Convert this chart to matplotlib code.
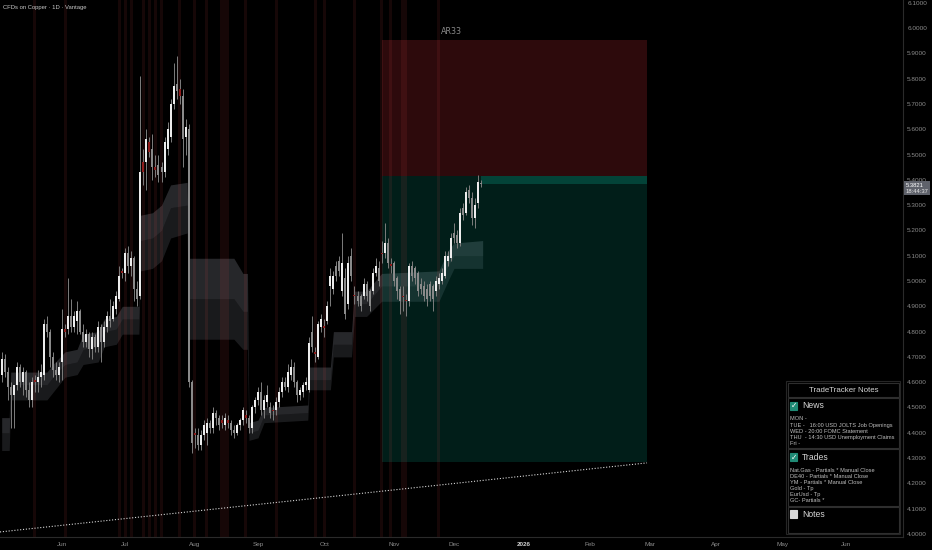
import matplotlib
matplotlib.use('Agg')
import matplotlib.pyplot as plt
import pandas as pd
from matplotlib.patches import Rectangle

# ---------------- data ----------------
start_date = '2025-05-05'
opens = [4.63, 4.69, 4.64, 4.58, 4.55, 4.59, 4.66, 4.60, 4.64, 4.57,
         4.53, 4.61, 4.60, 4.62, 4.63, 4.83, 4.80, 4.70, 4.65, 4.63,
         4.68, 4.81, 4.81, 4.86, 4.82, 4.84, 4.88, 4.80, 4.76, 4.79,
         4.73, 4.78, 4.74, 4.82, 4.76, 4.82, 4.86, 4.85, 4.89, 4.93,
         5.04, 5.03, 5.11, 5.06, 5.09, 4.97, 4.94, 5.47, 5.47, 5.55,
         5.52, 5.45, 5.46, 5.45, 5.43, 5.52, 5.57, 5.70, 5.78, 5.76,
         5.73, 5.57, 5.60, 4.60, 4.40, 4.39, 4.35, 4.39, 4.40, 4.44,
         4.42, 4.48, 4.46, 4.45, 4.43, 4.45, 4.44, 4.41, 4.40, 4.43,
         4.45, 4.47, 4.46, 4.42, 4.50, 4.53, 4.56, 4.49, 4.52, 4.50,
         4.49, 4.49, 4.52, 4.56, 4.60, 4.58, 4.63, 4.66, 4.60, 4.55,
         4.56, 4.59, 4.57, 4.80, 4.72, 4.70, 4.82, 4.82, 4.84, 4.98,
         4.97, 5.06, 5.08, 4.96, 5.01, 4.91, 5.10, 4.945, 4.94, 4.94,
         4.94, 4.99, 4.96, 4.96, 5.03, 5.05, 5.11, 5.11, 5.15, 5.065,
         5.07, 5.01, 4.97, 4.94, 4.925, 4.92, 5.06, 5.05, 5.03, 4.99,
         4.98, 4.97, 4.99, 4.98, 4.96, 4.99, 5.00, 5.02, 5.08, 5.09,
         5.19, 5.18, 5.15, 5.29, 5.27, 5.36, 5.33, 5.25, 5.31, 5.385]
highs = [4.72, 4.71, 4.66, 4.60, 4.59, 4.68, 4.67, 4.66, 4.65, 4.60,
         4.62, 4.63, 4.65, 4.67, 4.85, 4.86, 4.81, 4.72, 4.68, 4.68,
         4.89, 4.83, 5.01, 4.93, 4.88, 4.92, 4.89, 4.83, 4.81, 4.80,
         4.80, 4.79, 4.84, 4.83, 4.84, 4.88, 4.93, 4.92, 4.96, 5.06,
         5.05, 5.13, 5.14, 5.12, 5.10, 5.00, 5.81, 5.52, 5.60, 5.57,
         5.58, 5.50, 5.50, 5.47, 5.57, 5.63, 5.72, 5.86, 5.89, 5.80,
         5.76, 5.64, 5.62, 4.61, 4.42, 4.42, 4.41, 4.45, 4.46, 4.45,
         4.50, 4.49, 4.47, 4.47, 4.48, 4.47, 4.45, 4.43, 4.44, 4.46,
         4.50, 4.49, 4.47, 4.51, 4.54, 4.58, 4.60, 4.55, 4.59, 4.52,
         4.51, 4.54, 4.58, 4.62, 4.62, 4.67, 4.69, 4.68, 4.61, 4.58,
         4.60, 4.62, 4.78, 4.86, 4.74, 4.84, 4.87, 4.85, 4.92, 5.05,
         5.04, 5.08, 5.10, 5.19, 5.05, 5.10, 5.13, 4.98, 4.96, 4.95,
         5.01, 5.00, 4.97, 5.05, 5.09, 5.08, 5.16, 5.23, 5.17, 5.09,
         5.08, 5.02, 4.98, 4.98, 4.95, 5.07, 5.08, 5.06, 5.04, 5.01,
         5.00, 4.99, 5.00, 4.99, 5.02, 5.03, 5.05, 5.12, 5.12, 5.19,
         5.23, 5.20, 5.29, 5.31, 5.37, 5.38, 5.35, 5.33, 5.42, 5.40]
lows = [4.60, 4.62, 4.53, 4.42, 4.42, 4.57, 4.58, 4.55, 4.54, 4.50,
        4.50, 4.56, 4.56, 4.58, 4.61, 4.78, 4.66, 4.62, 4.61, 4.60,
        4.61, 4.78, 4.79, 4.80, 4.80, 4.79, 4.79, 4.74, 4.74, 4.70,
        4.69, 4.72, 4.72, 4.68, 4.74, 4.80, 4.82, 4.84, 4.87, 4.92,
        5.01, 5.00, 5.03, 5.02, 4.92, 4.90, 4.93, 5.38, 5.36, 5.49,
        5.40, 5.41, 5.39, 5.39, 5.41, 5.50, 5.55, 5.68, 5.72, 5.70,
        5.45, 5.50, 4.58, 4.32, 4.34, 4.33, 4.33, 4.37, 4.35, 4.40,
        4.40, 4.43, 4.41, 4.42, 4.41, 4.42, 4.39, 4.38, 4.39, 4.41,
        4.43, 4.44, 4.40, 4.40, 4.48, 4.51, 4.47, 4.46, 4.50, 4.46,
        4.45, 4.47, 4.50, 4.54, 4.57, 4.56, 4.61, 4.58, 4.52, 4.53,
        4.54, 4.57, 4.56, 4.72, 4.68, 4.69, 4.80, 4.78, 4.83, 4.90,
        4.95, 5.00, 5.02, 4.94, 4.85, 4.89, 5.00, 4.91, 4.90, 4.88,
        4.93, 4.92, 4.88, 4.95, 5.02, 4.98, 5.07, 5.09, 5.05, 5.03,
        4.98, 4.93, 4.87, 4.88, 4.86, 4.90, 5.00, 4.99, 4.94, 4.95,
        4.92, 4.90, 4.92, 4.88, 4.94, 4.97, 4.99, 5.01, 5.06, 5.08,
        5.15, 5.13, 5.14, 5.24, 5.26, 5.31, 5.22, 5.21, 5.29, 5.37]
closes = [4.69, 4.64, 4.58, 4.55, 4.59, 4.66, 4.60, 4.64, 4.57, 4.53,
          4.60, 4.60, 4.62, 4.64, 4.83, 4.80, 4.70, 4.65, 4.63, 4.66,
          4.81, 4.80, 4.86, 4.82, 4.86, 4.88, 4.80, 4.76, 4.79, 4.73,
          4.78, 4.74, 4.82, 4.76, 4.82, 4.86, 4.84, 4.90, 4.94, 5.02,
          5.03, 5.11, 5.06, 5.09, 4.97, 4.93, 5.43, 5.43, 5.56, 5.51,
          5.45, 5.44, 5.42, 5.43, 5.55, 5.60, 5.70, 5.77, 5.75, 5.73,
          5.56, 5.61, 4.60, 4.36, 4.39, 4.35, 4.39, 4.43, 4.44, 4.42,
          4.48, 4.46, 4.43, 4.44, 4.46, 4.44, 4.41, 4.40, 4.43, 4.45,
          4.49, 4.46, 4.42, 4.50, 4.53, 4.56, 4.49, 4.53, 4.55, 4.48,
          4.485, 4.52, 4.56, 4.60, 4.58, 4.64, 4.66, 4.60, 4.55, 4.57,
          4.59, 4.60, 4.755, 4.74, 4.71, 4.83, 4.85, 4.815, 4.90, 5.02,
          5.02, 5.02, 5.04, 5.07, 4.87, 5.07, 5.02, 4.94, 4.92, 4.90,
          4.99, 4.94, 4.90, 5.03, 5.06, 5.00, 5.105, 5.15, 5.07, 5.06,
          5.00, 4.96, 4.92, 4.935, 4.92, 5.06, 5.02, 5.01, 4.96, 4.97,
          4.94, 4.93, 4.94, 4.93, 5.00, 5.01, 5.03, 5.10, 5.10, 5.17,
          5.17, 5.15, 5.27, 5.26, 5.35, 5.33, 5.25, 5.30, 5.39, 5.382]
red_bars = [11, 21, 40, 47, 49, 51, 59, 64, 73, 75, 81, 90, 104, 107,
            117, 126, 129, 133, 134]
event_bars = [11, 21, 39, 41, 43, 47, 49, 51, 53, 59, 64, 68, 73, 74, 75,
              81, 91, 104, 107, 117, 126, 129, 133, 134, 145]

# indicator band (bar index, upper, middle, lower)
band_x = [0, 2.5, 3, 15, 17, 21, 25, 27, 32, 34, 38, 40, 45.5, 46, 50, 53,
          56, 61.5, 62, 77, 80, 81.5, 82, 85, 87, 101.5, 102, 109, 110, 116,
          117, 121, 126, 145, 148, 150, 159.5]
band_top = [4.46, 4.46, 4.64, 4.64, 4.67, 4.72, 4.73, 4.79, 4.80, 4.85, 4.86,
            4.90, 4.90, 5.26, 5.27, 5.30, 5.38, 5.39, 5.09, 5.09, 5.03, 5.03,
            4.44, 4.45, 4.50, 4.51, 4.66, 4.66, 4.80, 4.80, 4.96, 4.96, 5.03,
            5.04, 5.12, 5.15, 5.16]
band_mid = [4.40, 4.40, 4.59, 4.59, 4.62, 4.67, 4.68, 4.73, 4.74, 4.80, 4.81,
            4.85, 4.85, 5.16, 5.17, 5.20, 5.29, 5.30, 4.93, 4.93, 4.88, 4.88,
            4.40, 4.41, 4.47, 4.48, 4.61, 4.61, 4.75, 4.75, 4.91, 4.91, 4.98,
            4.98, 5.06, 5.10, 5.10]
band_bot = [4.33, 4.33, 4.53, 4.53, 4.56, 4.62, 4.63, 4.67, 4.68, 4.74, 4.75,
            4.79, 4.79, 5.04, 5.05, 5.08, 5.17, 5.19, 4.77, 4.77, 4.73, 4.73,
            4.37, 4.38, 4.44, 4.45, 4.57, 4.57, 4.70, 4.70, 4.86, 4.86, 4.92,
            4.92, 5.00, 5.05, 5.05]

# position tool
pos_start, pos_end = 126, 214
pos_entry, pos_stop, pos_target = 5.415, 5.953, 4.285
last_price = 5.3821
pos_label = 'AR33'
pos_label_bar = 149

# trend line
trend_x = [-0.56, 214]
trend_y = [4.008, 4.281]

month_labels = ['Jun', 'Jul', 'Aug', 'Sep', 'Oct', 'Nov', 'Dec', '2026',
                'Feb', 'Mar', 'Apr', 'May', 'Jun']
month_starts = ['2025-06-01', '2025-07-01', '2025-08-01', '2025-09-01',
                '2025-10-01', '2025-11-01', '2025-12-01', '2026-01-01',
                '2026-02-01', '2026-03-01', '2026-04-01', '2026-05-01',
                '2026-06-01']
price_ticks = [4.0, 4.1, 4.2, 4.3, 4.4, 4.5, 4.6, 4.7, 4.8, 4.9, 5.0,
               5.1, 5.2, 5.3, 5.4, 5.5, 5.6, 5.7, 5.8, 5.9, 6.0, 6.1]

news_lines = ['MON -', 'TUE -   16:00 USD JOLTS Job Openings',
              'WED - 20:00 FOMC Statement',
              'THU  - 14:30 USD Unemployment Claims', 'Fri -']
trade_lines = ['Nat.Gas - Partials * Manual Close',
               'DE40 - Partials * Manual Close',
               'YM - Partials * Manual Close', 'Gold - Tp', 'EurUsd - Tp',
               'GC- Partials *']

# ---------------- figure ----------------
W, H = 932, 550
fig = plt.figure(figsize=(W / 100, H / 100), dpi=100)
fig.patch.set_facecolor('#000000')
ax = fig.add_axes([0, 13 / H, 903 / W, 537 / H])
ax.set_facecolor('#000000')
ax.set_xlim(-0.56, 298.9)
ax.set_ylim(3.988, 6.111)

# position boxes
ax.add_patch(Rectangle((pos_start, pos_entry), pos_end - pos_start,
                       pos_stop - pos_entry, facecolor='#f23645', alpha=0.19,
                       edgecolor='none', zorder=2))
ax.add_patch(Rectangle((pos_start, pos_target), pos_end - pos_start,
                       pos_entry - pos_target, facecolor='#089981', alpha=0.2,
                       edgecolor='none', zorder=2))
n = len(closes)
ax.add_patch(Rectangle((n - 1, last_price), pos_end - (n - 1),
                       pos_entry - last_price, facecolor='#089981', alpha=0.3,
                       edgecolor='none', zorder=2.1))
ax.text(pos_label_bar, 5.988, pos_label, color='#8a8a8a', fontsize=5.8,
        ha='center', va='center', zorder=6)

# band
ax.fill_between(band_x, band_mid, band_top, color='#8a8d99', alpha=0.28,
                linewidth=0, zorder=1)
ax.fill_between(band_x, band_bot, band_mid, color='#8a8d99', alpha=0.19,
                linewidth=0, zorder=1)

# event stripes
for b in event_bars:
    ax.axvspan(b - 0.5, b + 0.5, color='#ff5252', alpha=0.09, linewidth=0,
               zorder=2.5)

# trend line
ax.plot(trend_x, trend_y, color='#d8d8d8', linewidth=0.8,
        linestyle=(0, (1, 1.6)), zorder=3)

# candles
for i in range(n):
    o, h, l, c = opens[i], highs[i], lows[i], closes[i]
    if i in red_bars:
        col = '#8e1b1b'
    elif c >= o:
        col = '#ececec'
    else:
        col = '#8a8a8a'
    ax.vlines(i, l, h, color='#7d7d7d', linewidth=0.7, zorder=4)
    lo, hi = min(o, c), max(o, c)
    if hi - lo < 0.006:
        hi = lo + 0.006
    ax.add_patch(Rectangle((i - 0.33, lo), 0.66, hi - lo, facecolor=col,
                           edgecolor='none', zorder=5))

# axes styling
for s in ['top', 'left']:
    ax.spines[s].set_visible(False)
for s in ['right', 'bottom']:
    ax.spines[s].set_color('#2a2a2a')
    ax.spines[s].set_linewidth(0.8)
ax.yaxis.tick_right()
ax.set_yticks(price_ticks)
ax.set_yticklabels(['%.4f' % v for v in price_ticks])
ax.tick_params(axis='y', length=0, pad=3, labelsize=4.6, labelcolor='#8c8c8c')
for t in ax.get_yticklabels():
    t.set_family('Liberation Sans')

axis_days = pd.bdate_range(start_date, '2026-07-31')
xt = [int(axis_days.searchsorted(pd.Timestamp(m))) for m in month_starts]
ax.set_xticks(xt)
ax.set_xticklabels(month_labels)
ax.tick_params(axis='x', length=0, pad=3.5, labelsize=4.6, labelcolor='#8c8c8c')
for t in ax.get_xticklabels():
    t.set_family('Liberation Sans')
    if t.get_text() == '2026':
        t.set_color('#d0d0d0')
        t.set_fontweight('bold')


def fx(x):
    return x / W


def fy(y):
    return 1 - y / H


# title
fig.text(fx(3), fy(7), 'CFDs on Copper \u00b7 1D \u00b7 Vantage', fontsize=4.2,
         color='#c8c8c8', va='center', ha='left', family='Liberation Sans')

# price label on axis
fig.patches.append(Rectangle((fx(904), fy(195)), 26 / W, 14 / H,
                             transform=fig.transFigure, facecolor='#5f626b',
                             edgecolor='none', zorder=5))
fig.text(fx(906), fy(185), '%.4f' % last_price, fontsize=4.2, color='#ffffff',
         va='center', ha='left', zorder=6, family='Liberation Sans')
fig.text(fx(906), fy(191.5), '18:44:37', fontsize=4.2, color='#e8e8e8',
         va='center', ha='left', zorder=6, family='Liberation Sans')

# notes panel


def box(x0, y0, x1, y1, fc='#000000', ec='#2e2e2e'):
    fig.patches.append(Rectangle((fx(x0), fy(y1)), (x1 - x0) / W,
                                 (y1 - y0) / H, transform=fig.transFigure,
                                 facecolor=fc, edgecolor=ec, linewidth=0.8,
                                 zorder=7))


box(786, 381, 900, 534, ec='#262626')
box(788, 383, 899, 397)
box(788, 398, 899, 448)
box(788, 449, 899, 506)
box(788, 507, 899, 533)
fig.text(fx(843.5), fy(390), 'TradeTracker Notes', fontsize=5.7,
         color='#d4d4d4', ha='center', va='center', family='Liberation Sans',
         zorder=8)


def checkbox(x, y, checked):
    if checked:
        box(x, y - 4, x + 7, y + 4, fc='#1f8a75', ec='#1f8a75')
        fig.text(fx(x + 3.6), fy(y), '\u2713', fontsize=5.5, color='#ffffff',
                 ha='center', va='center', weight='bold', zorder=9)
    else:
        box(x, y - 4, x + 7, y + 4, fc='#d8d8d8', ec='#d8d8d8')


checkbox(790, 405.5, True)
fig.text(fx(802), fy(406), 'News', fontsize=6.2, color='#d4d4d4', ha='left',
         va='center', family='Liberation Sans', zorder=8)
for k, line in enumerate(news_lines):
    fig.text(fx(790), fy(419 + 6.2 * k), line, fontsize=4.1, color='#c0c0c0',
             ha='left', va='center', family='Liberation Sans', zorder=8)
checkbox(790, 457, True)
fig.text(fx(802), fy(457.5), 'Trades', fontsize=6.2, color='#d4d4d4',
         ha='left', va='center', family='Liberation Sans', zorder=8)
for k, line in enumerate(trade_lines):
    fig.text(fx(790), fy(470 + 6.1 * k), line, fontsize=4.1, color='#c0c0c0',
             ha='left', va='center', family='Liberation Sans', zorder=8)
checkbox(790, 514, False)
fig.text(fx(802), fy(514.5), 'Notes', fontsize=6.2, color='#d4d4d4',
         ha='left', va='center', family='Liberation Sans', zorder=8)

fig.savefig('out.png', dpi=100, facecolor=fig.get_facecolor())
